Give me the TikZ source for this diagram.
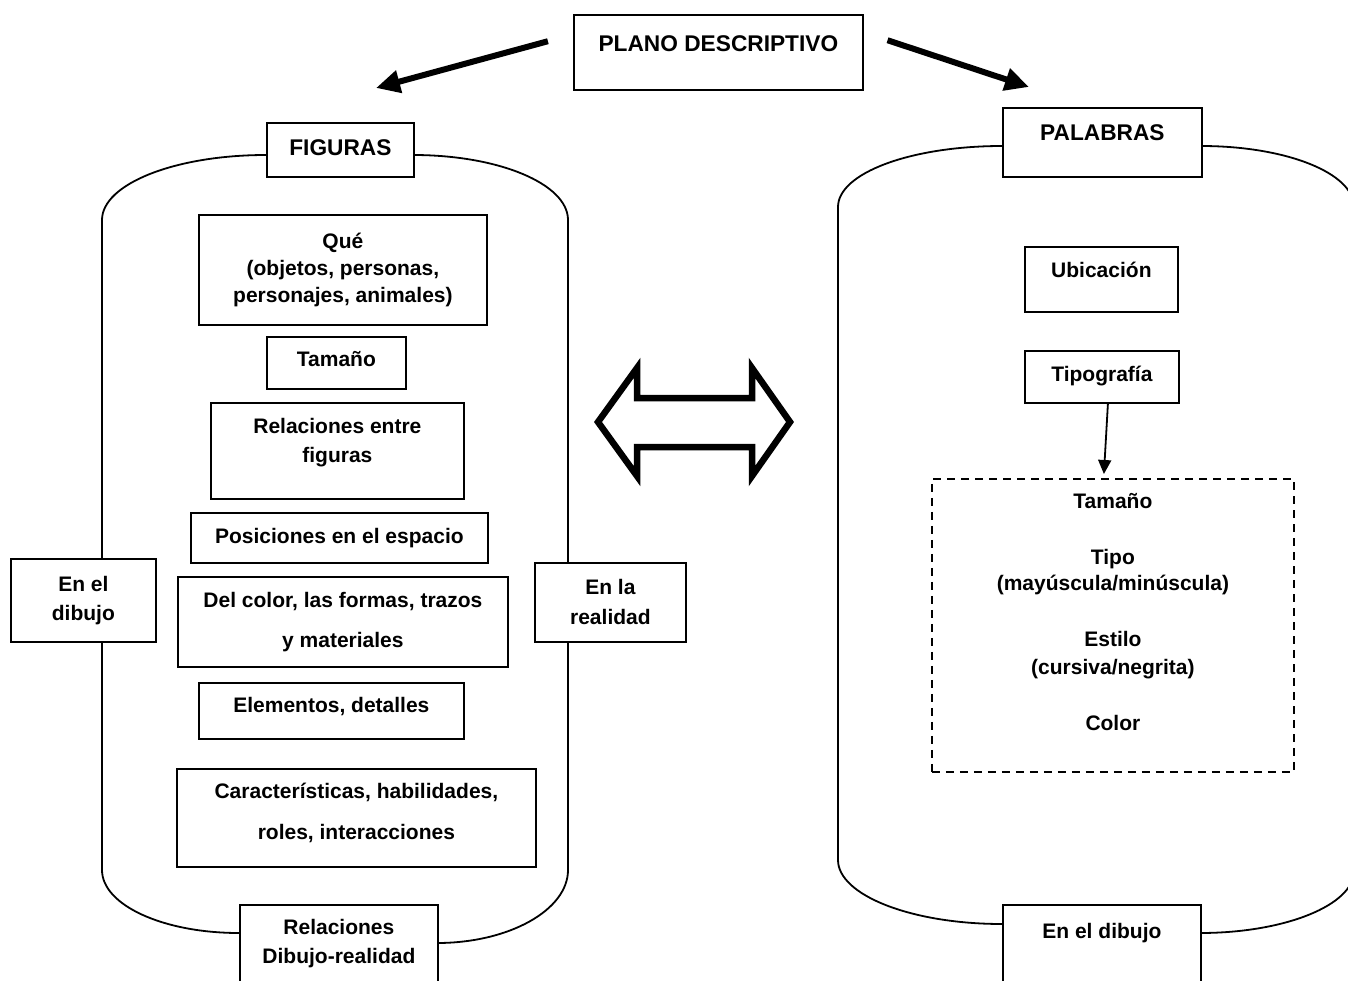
\documentclass[tikz,border=0pt]{standalone}
\usepackage{fontspec}
\setmainfont{Liberation Sans}
\usepackage{tikz}
\usetikzlibrary{arrows.meta}

\begin{document}
\begin{tikzpicture}[
  x=1pt, y=-1pt,
  font=\fontsize{21}{27}\selectfont\bfseries,
  box/.style={draw, fill=white, line width=1.8pt, inner sep=0pt, anchor=north west},
  head/.style={box, font=\fontsize{22.7}{27}\selectfont\bfseries},
  hull/.style={draw, line width=1.8pt},
  bigarr/.style={line width=6pt, -{Triangle[length=24pt, width=22pt]}},
  arr/.style={line width=1.8pt, -{Triangle[length=14pt, width=13pt]}}
]
\useasboundingbox (0,0) rectangle (1348,981);
\clip (0,0) rectangle (1348,981);

% cilindros
\draw[hull] (266,155) .. controls (175,155) and (102,184) .. (102,220) -- (102,870)
  .. controls (102,905) and (163,933) .. (239,933);
\draw[hull] (413,155) .. controls (499,155) and (568,184) .. (568,220) -- (568,870)
  .. controls (568,910) and (509,943) .. (437,943);
\draw[hull] (1002,146) .. controls (911,146) and (838,173) .. (838,207) -- (838,860)
  .. controls (838,895) and (911,924) .. (1002,924);
\draw[hull] (1201,146) .. controls (1286,146) and (1354,173) .. (1354,207) -- (1354,871)
  .. controls (1354,905) and (1285,933) .. (1200,933);

\node[head, minimum width=289pt, minimum height=75pt, text height=37pt, text depth=38pt] (plano) at (573,14) {PLANO DESCRIPTIVO};
\node[head, minimum width=147pt, minimum height=54pt, text height=32.5pt, text depth=21.5pt] (figuras) at (266,122) {FIGURAS};
\node[head, minimum width=199pt, minimum height=69pt, text height=33pt, text depth=36pt] (palabras) at (1002,107) {PALABRAS};

\node[box, align=center, minimum width=288pt, minimum height=110pt] (que) at (198,214) {Qué\\(objetos, personas,\\personajes, animales)};
\node[box, minimum width=139pt, minimum height=52pt, text height=29.5pt, text depth=22.5pt] (tamfig) at (266,336) {Tamaño};
\node[box, align=center, minimum width=253pt, minimum height=96pt] (relfig) at (210,402) {Relaciones entre\\[2pt]figuras\\[-6pt]\mbox{}};
\node[box, minimum width=297pt, minimum height=50pt, text height=30.5pt, text depth=19.5pt] (pos) at (190,512) {Posiciones en el espacio};
\node[box, align=center, minimum width=330pt, minimum height=90pt] (color) at (177,576) {Del color, las formas, trazos\\[13pt]y materiales};
\node[box, minimum width=265pt, minimum height=56pt, text height=29.5pt, text depth=26.5pt] (elem) at (198,682) {Elementos, detalles};
\node[box, align=center, minimum width=359pt, minimum height=98pt] (caract) at (176,768) {Características, habilidades,\\[14pt]roles, interacciones\\[-13pt]\mbox{}};
\node[box, align=center, minimum width=198pt, minimum height=91pt] (reldib) at (239,904) {Relaciones\\[2pt]Dibujo-realidad\\[-9pt]\mbox{}};
\node[box, align=center, minimum width=145pt, minimum height=83pt] (dibujo) at (10,558) {En el\\[2pt]dibujo};
\node[box, align=center, minimum width=151pt, minimum height=79pt] (realidad) at (534,562) {En la\\[3pt]realidad};

\node[box, minimum width=153pt, minimum height=65pt, text height=30.5pt, text depth=34.5pt] (ubic) at (1024,246) {Ubicación};
\node[box, minimum width=154pt, minimum height=52pt, text height=30.5pt, text depth=21.5pt] (tipog) at (1024,350) {Tipografía};
\node[box, align=center, dash pattern=on 8pt off 6pt, minimum width=362pt, minimum height=293pt] (rasgos) at (931,478) {Tamaño\\[29pt]Tipo\\[-1pt](mayúscula/minúscula)\\[29pt]Estilo\\[1pt](cursiva/negrita)\\[29pt]Color\\\mbox{}};
\node[box, minimum width=198pt, minimum height=96pt, text height=33.5pt, text depth=62.5pt] (dibpal) at (1002,904) {En el dibujo};

\coordinate (figtip) at (376,88);
\coordinate (paltip) at (1029,87);
\draw[bigarr, shorten <=26pt] ([yshift=18pt]plano.west) -- (figtip);
\draw[bigarr, shorten <=25pt] ([yshift=20pt]plano.east) -- (paltip);
\draw[arr] ([xshift=6pt]tipog.south) -- ([xshift=-9pt,yshift=4pt]rasgos.north);

% flecha doble
\draw[line width=6.5pt, line join=miter] (598,422) -- (637,368) -- (637,398) -- (752,398) -- (752,368)
  -- (790,422) -- (752,476) -- (752,447) -- (637,447) -- (637,476) -- cycle;
\end{tikzpicture}
\end{document}
